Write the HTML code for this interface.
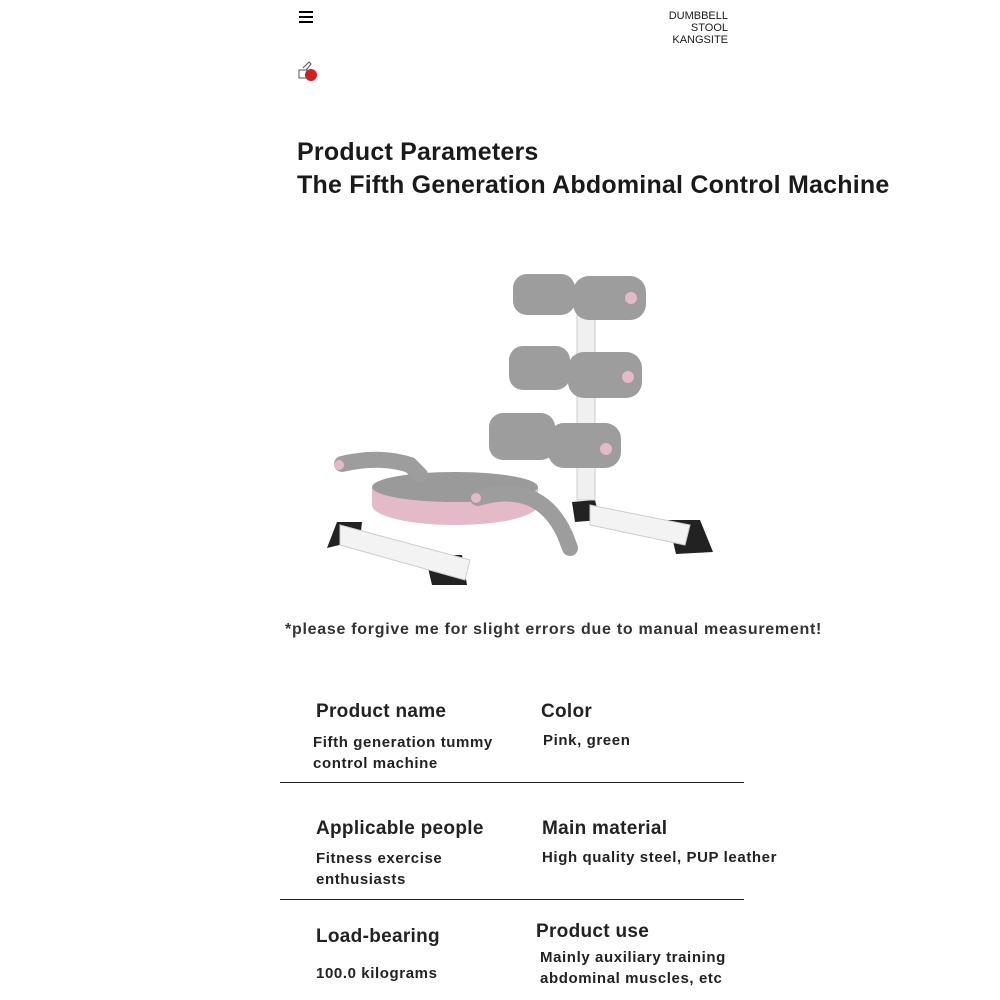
<!DOCTYPE html>
<html><head><meta charset="utf-8"><style>
body{margin:0;width:1000px;height:1000px;background:#fff;position:relative;overflow:hidden;font-family:"Liberation Sans",sans-serif;color:#1a1a1a}
.a{position:absolute;white-space:nowrap}
.h{font-size:19px;font-weight:bold;color:#222;letter-spacing:0.3px}
.v{font-size:15px;font-weight:bold;color:#222;line-height:21px;letter-spacing:0.6px}
.line{position:absolute;left:280px;width:464px;height:1px;background:#222}
</style></head><body>
<div class="a" style="left:299px;top:11px;width:14px;height:2px;background:#000;box-shadow:0 5px 0 #000,0 10px 0 #000"></div>
<div class="a" style="left:660px;top:10px;font-size:11px;line-height:12px;text-align:right;width:68px">DUMBBELL<br>STOOL<br>KANGSITE</div>
<svg class="a" style="left:297px;top:60px" width="24" height="24"><rect x="2" y="10" width="8" height="8" fill="none" stroke="#555"/><path d="M6 8 L12 2 L14 4 L9 10" fill="none" stroke="#555"/><circle cx="14" cy="15" r="6" fill="#d02020"/></svg>
<div class="a" style="left:297px;top:136px;font-size:25px;font-weight:bold;line-height:33px;letter-spacing:0.22px">Product Parameters<br>The Fifth Generation Abdominal Control Machine</div>
<svg class="a" style="left:0;top:0" width="1000" height="1000">
<g fill="#222"><polygon points="327,548 337,522 362,522 360,540"/><polygon points="425,555 462,555 467,585 432,585"/><polygon points="668,520 700,520 713,552 676,554"/><polygon points="572,502 595,500 600,520 575,522"/></g>
<polygon points="340,525 470,560 465,580 340,545" fill="#f3f3f3" stroke="#ccc"/>
<polygon points="590,505 690,525 685,545 590,525" fill="#f3f3f3" stroke="#ccc"/>
<rect x="577" y="300" width="18" height="200" fill="#f0f0f0" stroke="#ccc"/>
<ellipse cx="455" cy="505" rx="83" ry="20" fill="#e4b9c8"/>
<rect x="372" y="487" width="166" height="18" fill="#e4b9c8"/>
<ellipse cx="455" cy="487" rx="83" ry="15" fill="#9a9a9a"/>
<g stroke="#9d9d9d" stroke-width="16" fill="none" stroke-linecap="round"><path d="M342 464 Q380 455 410 465 L420 475"/><path d="M478 498 Q540 480 565 535 L570 548"/></g>
<g fill="#9d9d9d"><rect x="513" y="274" width="62" height="41" rx="14"/><rect x="573" y="276" width="73" height="44" rx="16"/><rect x="509" y="346" width="61" height="44" rx="14"/><rect x="568" y="352" width="74" height="46" rx="16"/><rect x="489" y="413" width="66" height="47" rx="14"/><rect x="548" y="423" width="73" height="45" rx="16"/></g>
<g fill="#e4b9c8"><circle cx="631" cy="298" r="6"/><circle cx="628" cy="377" r="6"/><circle cx="606" cy="449" r="6"/><circle cx="339" cy="465" r="5"/><circle cx="476" cy="498" r="5"/></g>
</svg>
<div class="a" style="left:285px;top:621px;font-size:16px;font-weight:bold;color:#333;letter-spacing:0.72px">*please forgive me for slight errors due to manual measurement!</div>
<div class="a h" style="left:316px;top:701px">Product name</div>
<div class="a h" style="left:541px;top:701px">Color</div>
<div class="a v" style="left:313px;top:732px">Fifth generation tummy<br>control machine</div>
<div class="a v" style="left:543px;top:730px">Pink, green</div>
<div class="line" style="top:782px"></div>
<div class="a h" style="left:316px;top:818px">Applicable people</div>
<div class="a h" style="left:542px;top:818px">Main material</div>
<div class="a v" style="left:316px;top:848px">Fitness exercise<br>enthusiasts</div>
<div class="a v" style="left:542px;top:847px">High quality steel, PUP leather</div>
<div class="line" style="top:899px"></div>
<div class="a h" style="left:316px;top:926px">Load-bearing</div>
<div class="a h" style="left:536px;top:921px">Product use</div>
<div class="a v" style="left:316px;top:963px">100.0 kilograms</div>
<div class="a v" style="left:540px;top:947px">Mainly auxiliary training<br>abdominal muscles, etc</div>
</body></html>
